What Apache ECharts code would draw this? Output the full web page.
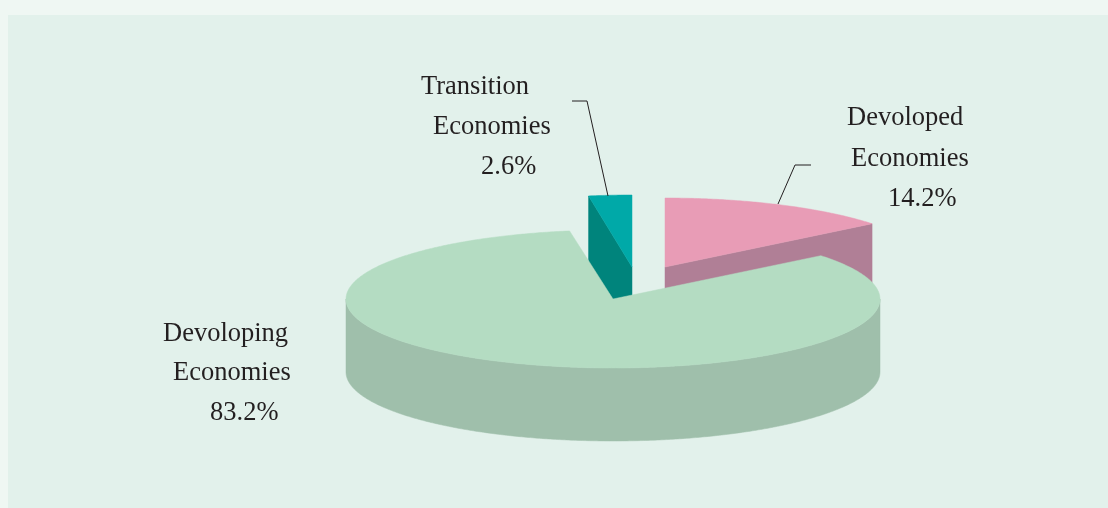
<!DOCTYPE html>
<html>
<head>
<meta charset="utf-8">
<style>html,body{margin:0;padding:0;background:#eff7f3}#c{width:1108px;height:508px}</style>
<script src="https://cdn.jsdelivr.net/npm/echarts@6/dist/echarts.min.js"></script>
</head>
<body>
<div id="c"></div>
<script>
// Data
const categories = ['Developed', 'Developing', 'Transition'];
const values = [14.2, 83.2, 2.6];
const labelNames = [['Devoloped', 'Economies'], ['Devoloping', 'Economies'], ['Transition', 'Economies']];

// Styles and layout
const topColors = ['#e89cb6', '#b4dcc2', '#00a9a8'];
const sideColors = ['#b07f96', '#9fbfab', '#00847c'];
const centers = [[665, 267], [613, 299], [632, 267]];
const radiiX = [266, 267, 267];
const radiiY = [69, 69, 72];
const depth = 73;
const drawOrder = [1, 3, 2];
const labelAnchors = [
  [[847, 132], [851, 173], [888, 213]],
  [[163, 348], [173, 387], [210, 427]],
  [[421, 101], [433, 141], [481, 181]]
];
const leaders = [
  [[811, 165], [795, 165], [778, 204]],
  null,
  [[572, 101], [587, 101], [608, 196]]
];
const TEXT_FONT = '26.5px "Liberation Serif", serif';

const total = values.reduce((a, b) => a + b, 0);
const starts = [];
values.reduce((acc, v, i) => { starts[i] = acc; return acc + v; }, 0);

function pt(i, deg, drop) {
  const r = deg * Math.PI / 180;
  return [centers[i][0] + radiiX[i] * Math.cos(r), centers[i][1] - radiiY[i] * Math.sin(r) + (drop || 0)];
}
function arc(i, from, to, drop) {
  const n = Math.max(2, Math.ceil(Math.abs(to - from) * 2));
  const out = [];
  for (let k = 0; k <= n; k++) out.push(pt(i, from + (to - from) * k / n, drop));
  return out;
}
function poly(points, fill, z2) {
  return { type: 'polygon', z2, shape: { points }, style: { fill, stroke: fill, lineWidth: 0.5 }, silent: true };
}

function renderItem(params, api) {
  const i = params.dataIndex;
  const v = api.value(0);
  // clockwise from 12 o'clock
  const a0 = 90 - starts[i] / total * 360;
  const a1 = a0 - v / total * 360;
  const c = centers[i];
  const z = drawOrder[i] * 10;
  const children = [];
  const cb = [c[0], c[1] + depth];

  // radial walls that face the viewer
  [[a1, 1], [a0, -1]].forEach(([a, dir]) => {
    if (dir * Math.cos(a * Math.PI / 180) > 1e-6) {
      children.push(poly([c, pt(i, a), pt(i, a, depth), cb], sideColors[i], z));
    }
  });
  // outer wall: the front half only
  for (let turn = -360; turn <= 0; turn += 360) {
    const hi = Math.min(a0, turn + 0);
    const lo = Math.max(a1, turn - 180);
    if (hi > lo) {
      children.push(poly(arc(i, hi, lo, 0).concat(arc(i, lo, hi, depth)), sideColors[i], z + 1));
    }
  }
  // top face
  children.push(poly([c].concat(arc(i, a0, a1, 0)), topColors[i], z + 2));

  // leader line
  if (leaders[i]) {
    children.push({ type: 'polyline', z2: 100, silent: true, shape: { points: leaders[i] }, style: { fill: 'none', stroke: '#231f20', lineWidth: 1 } });
  }
  // label lines
  const lines = labelNames[i].concat([v.toFixed(1) + '%']);
  lines.forEach((t, k) => {
    children.push({
      type: 'text', z2: 101, silent: true,
      style: { text: t, x: labelAnchors[i][k][0], y: labelAnchors[i][k][1], fill: '#231f20', font: TEXT_FONT, textAlign: 'left', textVerticalAlign: 'bottom' }
    });
  });
  return { type: 'group', children };
}

const chart = echarts.init(document.getElementById('c'), null, { renderer: 'canvas' });
chart.setOption({
  animation: false,
  backgroundColor: '#eff7f3',
  graphic: [{ type: 'rect', z: -1, silent: true, shape: { x: 8, y: 15, width: 1100, height: 493 }, style: { fill: '#e2f1eb' } }],
  series: [{
    type: 'custom',
    coordinateSystem: 'none',
    name: 'Share',
    renderItem,
    data: categories.map((name, i) => ({ name, value: [values[i]] }))
  }]
});
</script>
</body>
</html>
